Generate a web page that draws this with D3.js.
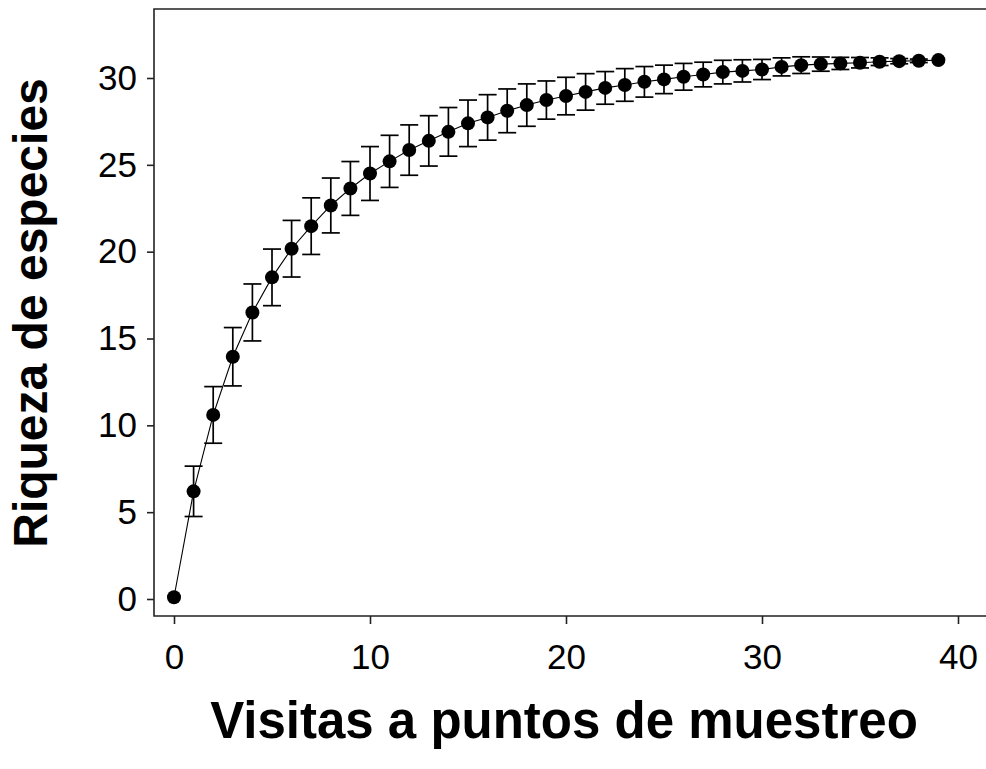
<!DOCTYPE html>
<html>
<head>
<meta charset="utf-8">
<script src="https://cdn.jsdelivr.net/npm/d3@7"></script>
<style>
    body { margin: 0; background: #fff; }
    svg { display: block; font-family: "Liberation Sans", Arial, sans-serif; }
    .tick text { font-size: 35px; fill: #000; }
    .axis-title { font-weight: bold; fill: #000; }
</style>
</head>
<body>
<div id="plot"></div>
<script>
// Define variables
// ============================================================================
const visits = d3.range(0, 40);

const richness = [
    0.1, 6.2, 10.6, 13.95, 16.5, 18.52, 20.17, 21.47, 22.66, 23.64,
    24.5, 25.2, 25.85, 26.38, 26.9, 27.39, 27.73, 28.11, 28.44, 28.73,
    28.96, 29.2, 29.43, 29.6, 29.78, 29.92, 30.07, 30.2, 30.34, 30.41,
    30.49, 30.64, 30.74, 30.8, 30.84, 30.88, 30.94, 30.97, 30.99, 31.03
];

const errors = [
    0, 1.45, 1.63, 1.68, 1.64, 1.63, 1.63, 1.63, 1.58, 1.55,
    1.55, 1.5, 1.45, 1.45, 1.4, 1.34, 1.31, 1.26, 1.22, 1.1,
    1.08, 1.05, 0.94, 0.94, 0.88, 0.82, 0.77, 0.71, 0.68, 0.64,
    0.58, 0.52, 0.48, 0.41, 0.35, 0.3, 0.22, 0.15, 0.1, 0
];

const xTicks = [0, 10, 20, 30, 40],
    yTicks = [0, 5, 10, 15, 20, 25, 30];

const width = 986,
    height = 769,
    frame = {left: 154, top: 9, right: 990, bottom: 616};

const data = visits.map((v, i) => ({x: v, y: richness[i], e: errors[i]}));

// Plot
// ============================================================================
let svg = d3.select("#plot")
    .append("svg")
        .attr("width", width)
        .attr("height", height);

// Scales
let xScale = d3.scaleLinear()
    .domain([0, 40])
    .range([174, 958]);

let yScale = d3.scaleLinear()
    .domain([0, 30])
    .range([599, 78]);

// Frame (left, top, bottom)
svg.append("path")
    .attr("d", "M" + frame.right + "," + frame.top +
        "H" + frame.left + "V" + frame.bottom + "H" + frame.right)
    .attr("fill", "none")
    .attr("stroke", "#222")
    .attr("stroke-width", 1.6);

// Axes
let xAxis = svg.append("g")
    .attr("transform", "translate(0," + frame.bottom + ")")
    .call(d3.axisBottom(xScale)
        .tickValues(xTicks)
        .tickSize(8)
        .tickPadding(20));

let yAxis = svg.append("g")
    .attr("transform", "translate(" + frame.left + ",0)")
    .call(d3.axisLeft(yScale)
        .tickValues(yTicks)
        .tickSize(7)
        .tickPadding(10));

[xAxis, yAxis].forEach(ax => {
    ax.select(".domain").remove();
    ax.selectAll(".tick line")
        .attr("stroke", "#222")
        .attr("stroke-width", 1.6);
    ax.selectAll(".tick text")
        .attr("font-family", null)
        .attr("font-size", null);
});

// Error bars
let bars = svg.append("g")
    .attr("stroke", "#000")
    .attr("stroke-width", 1.7)
    .selectAll("g")
    .data(data.filter(d => d.e > 0))
    .join("g");

bars.append("line")
    .attr("x1", d => xScale(d.x))
    .attr("x2", d => xScale(d.x))
    .attr("y1", d => yScale(d.y + d.e))
    .attr("y2", d => yScale(d.y - d.e));

bars.append("line")
    .attr("x1", d => xScale(d.x) - 9)
    .attr("x2", d => xScale(d.x) + 9)
    .attr("y1", d => yScale(d.y + d.e))
    .attr("y2", d => yScale(d.y + d.e));

bars.append("line")
    .attr("x1", d => xScale(d.x) - 9)
    .attr("x2", d => xScale(d.x) + 9)
    .attr("y1", d => yScale(d.y - d.e))
    .attr("y2", d => yScale(d.y - d.e));

// Line
svg.append("path")
    .datum(data)
    .attr("fill", "none")
    .attr("stroke", "#000")
    .attr("stroke-width", 1.1)
    .attr("d", d3.line()
        .x(d => xScale(d.x))
        .y(d => yScale(d.y)));

// Points
svg.append("g")
    .selectAll("circle")
    .data(data)
    .join("circle")
        .attr("cx", d => xScale(d.x))
        .attr("cy", d => yScale(d.y))
        .attr("r", 7)
        .attr("fill", "#000");

// Axis titles
svg.append("text")
    .attr("class", "axis-title")
    .attr("x", 564)
    .attr("y", 738)
    .attr("font-size", 51)
    .attr("text-anchor", "middle")
    .text("Visitas a puntos de muestreo");

svg.append("text")
    .attr("class", "axis-title")
    .attr("transform", "translate(47,313) rotate(-90)")
    .attr("font-size", 48)
    .attr("text-anchor", "middle")
    .text("Riqueza de especies");
</script>
</body>
</html>
